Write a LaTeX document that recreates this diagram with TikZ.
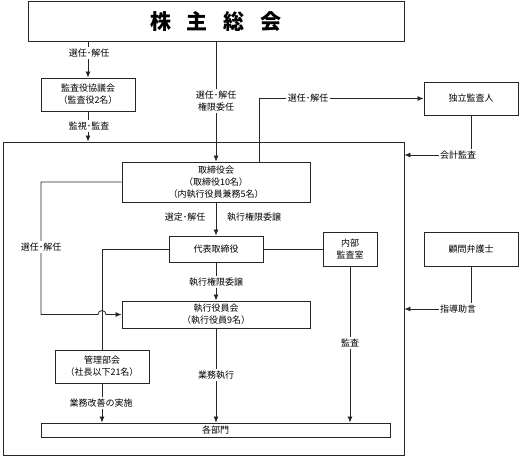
\documentclass[tikz,border=0pt]{standalone}
\usepackage{fontspec}
\setmainfont{Noto Sans CJK JP}
\usetikzlibrary{arrows.meta,positioning}

\tikzset{
  box/.style={draw=black!85, line width=0.9pt, fill=white, align=center,
    inner sep=0pt, font=\fontsize{9}{12}\selectfont},
  lbl/.style={fill=white, inner sep=1.5pt, align=center,
    font=\fontsize{9}{12}\selectfont},
  line/.style={draw=black!85, line width=0.8pt},
  arr/.style={line, -{Latex[length=6pt,width=5pt]}},
}

\begin{document}
\begin{tikzpicture}[x=1pt,y=-1pt]
    \useasboundingbox (0,0) rectangle (519,458);
    %% outer frame (company)
    \node[draw=black!85, line width=0.9pt, minimum width=401pt, minimum height=313pt,
      inner sep=0pt] (corp) at (203.5,298.5) {};
    %% boxes
    \node[box, minimum width=376pt, minimum height=40pt] (soukai) at (216,21)
      {\fontsize{21}{24}\selectfont\bfseries 株\hspace{16pt}主\hspace{16pt}総\hspace{16pt}会};
    \node[box, minimum width=94pt, minimum height=33pt] (kansayaku) at (88,94.5)
      {監査役協議会\\（監査役2名）};
    \node[box, minimum width=94pt, minimum height=33pt] (dokuritsu) at (471,98.5) {独立監査人};
    \node[box, minimum width=188pt, minimum height=40pt] (torishimari) at (216,182)
      {取締役会\\（取締役10名）\\（内執行役員兼務5名）};
    \node[box, minimum width=94pt, minimum height=26pt] (daihyo) at (216,249) {代表取締役};
    \node[box, minimum width=54pt, minimum height=34pt] (naibu) at (350,249) {内部\\監査室};
    \node[box, minimum width=94pt, minimum height=34pt] (komon) at (471,249) {顧問弁護士};
    \node[box, minimum width=188pt, minimum height=27pt] (shikko) at (216,314.5)
      {執行役員会\\（執行役員9名）};
    \node[box, minimum width=94pt, minimum height=33pt] (kanri) at (102,366.5)
      {管理部会\\（社長以下21名）};
    \node[box, minimum width=349pt, minimum height=14pt] (kakubu) at (215.5,430) {各部門};
    %% helper points
    \coordinate (senx) at (259,98);
    \coordinate (kaikei) at (458,155);
    \coordinate (shido) at (458,309);
    \coordinate (selx) at (41,247);
    %% connectors
    \draw[arr] (soukai.south -| kansayaku.north) -- (kansayaku.north);
    \draw[arr] (kansayaku.south) -- (kansayaku.south |- corp.north);
    \draw[arr] (soukai.south) -- (torishimari.north);
    \draw[arr] (senx |- torishimari.north) |- (dokuritsu.west);
    \draw[arr] (dokuritsu.south) |- (corp.east |- kaikei);
    \draw[arr] (komon.south) |- (corp.east |- shido);
    \draw[arr] (torishimari) -- (daihyo);
    \draw[line] (daihyo) -- (naibu);
    \draw[arr] (naibu.south) -- (naibu.south |- kakubu.north);
    \draw[arr] (daihyo) -- (shikko);
    \draw[arr] (shikko.south) -- (shikko.south |- kakubu.north);
    \draw[arr] (kanri.south) -- (kanri.south |- kakubu.north);
    \draw[line] (daihyo.west) -| (kanri.north);
    \draw[arr] (torishimari.west) -| (selx) -- (selx |- shikko.west)
      -- ([xshift=-4pt]kanri.north |- shikko.west)
      arc[start angle=180, end angle=0, radius=4pt] -- (shikko.west);
    %% labels
    \node[lbl] (l1) at (89,53) {選任･解任};
    \node[lbl] (l2) at (89,126) {監視･監査};
    \node[lbl] (l3) at (216,101) {選任･解任\\権限委任};
    \node[lbl] (l4) at (308,98) {選任･解任};
    \node[lbl] (l5) at (kaikei) {会計監査};
    \node[lbl] (l6) at (shido) {指導助言};
    \node[lbl] (l7) at (185,217) {選定･解任};
    \node[lbl] (l8) at (254,217) {執行権限委譲};
    \node[lbl] (l9) at (selx) {選任･解任};
    \node[lbl] (l10) at (216,282) {執行権限委譲};
    \node[lbl] (l11) at (350,343) {監査};
    \node[lbl] (l12) at (216,375) {業務執行};
    \node[lbl] (l13) at (101,403) {業務改善の実施};
\end{tikzpicture}
\end{document}
